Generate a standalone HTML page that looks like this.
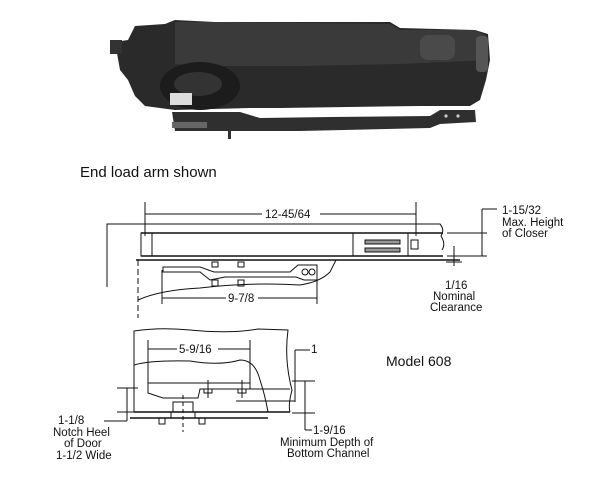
<!DOCTYPE html>
<html><head><meta charset="utf-8"><style>
html,body{margin:0;padding:0;background:#fff;width:600px;height:503px;overflow:hidden}
svg{display:block}
text{font-family:"Liberation Sans",Arial,sans-serif;fill:#111}
</style></head><body>
<svg width="600" height="503" viewBox="0 0 600 503" xmlns="http://www.w3.org/2000/svg">
<g>
<polygon points="128,40 135,26 165,24 175,20 215,22 390,22 400,28 475,30 488,34 490,60 486,80 480,100 470,106 420,106 280,108 250,108 175,110 145,106 135,96 128,80 120,70 115,42" fill="#2a2a2a"/>
<polygon points="175,22 215,22 390,24 400,30 475,30 486,36 488,60 400,64 300,66 200,66 175,64" fill="#3a3a3a"/>
<rect x="420" y="35" width="35" height="25" rx="8" fill="#4a4a4a"/>
<rect x="476" y="36" width="12" height="36" rx="4" fill="#555"/>
<ellipse cx="200" cy="86" rx="40" ry="24" fill="#1c1c1c"/>
<ellipse cx="198" cy="84" rx="24" ry="12" fill="#333"/>
<rect x="170" y="93" width="22" height="12" fill="#ddd"/>
<polygon points="172,112 240,112 260,118 330,117 430,116 440,110 475,110 476,122 440,124 430,128 300,131 175,131" fill="#2f2f2f"/>
<rect x="172" y="122" width="35" height="6" fill="#666"/>
<rect x="228" y="125" width="3" height="14" fill="#2f2f2f"/>
<circle cx="446" cy="116" r="1.6" fill="#ccc"/><circle cx="458" cy="116" r="1.6" fill="#ccc"/>
<rect x="110" y="40" width="12" height="14" fill="#333"/>
</g>
<text x="80" y="177" font-size="15">End load arm shown</text>

<g stroke="#111" fill="none" stroke-width="1">
<line x1="145" y1="202" x2="145" y2="236"/><line x1="416" y1="202" x2="416" y2="236"/>
<line x1="145" y1="214" x2="262" y2="214"/><line x1="320" y1="214" x2="416" y2="214"/>
<path d="M107,287 L107,224 L440,224 Q445,230 441,236 Q446,244 442,250"/>
<line x1="141" y1="233" x2="443" y2="233" stroke-width="1.5"/>
<line x1="141" y1="256" x2="443" y2="256" stroke-width="1.5"/>
<rect x="141" y="233" width="11" height="23"/>
<line x1="353" y1="233" x2="353" y2="256"/>
<rect x="365" y="240" width="35" height="4" fill="#999"/><rect x="365" y="248" width="35" height="4" fill="#999"/>
<line x1="408" y1="233" x2="408" y2="256"/><rect x="411" y="240" width="7" height="9"/>
<line x1="136" y1="260" x2="460" y2="260" stroke-width="1.5"/>
<line x1="138" y1="260" x2="138" y2="318" stroke-dasharray="6,3"/>
<path d="M163,267 L200,267 L214,272 L290,272 L298,265 L317,265 L317,280 L304,280 L296,277 L225,277 L210,280 L200,272 L163,272 Z"/>
<circle cx="305" cy="272" r="3"/><circle cx="312" cy="272" r="3"/>
<rect x="212" y="262" width="6" height="5"/><rect x="238" y="262" width="6" height="5"/>
<rect x="212" y="280" width="6" height="6"/><rect x="238" y="280" width="6" height="6"/>
<path d="M138,300 Q160,290 200,288 Q250,282 300,285 Q320,282 330,272 L336,260"/>
<line x1="162" y1="270" x2="162" y2="304"/><line x1="317" y1="280" x2="317" y2="304"/>
<line x1="162" y1="298" x2="226" y2="298"/><line x1="258" y1="298" x2="317" y2="298"/>
<line x1="447" y1="233" x2="487" y2="233"/><line x1="447" y1="256" x2="487" y2="256"/>
<line x1="482" y1="209" x2="482" y2="256"/><line x1="482" y1="209" x2="497" y2="209"/>
<line x1="454" y1="246" x2="454" y2="266"/><line x1="446" y1="262" x2="462" y2="262"/>
<path d="M134,412 L134,331 Q160,327 190,330 Q230,334 258,329 L288,330 Q284,360 292,390 Q288,405 290,412"/>
<path d="M134,365 Q150,360 190,361 Q220,366 240,360 Q255,360 260,380 Q265,395 268,412"/>
<line x1="134" y1="412" x2="290" y2="412" stroke-width="1.5"/>
<line x1="130" y1="418" x2="268" y2="418" stroke-width="1.5"/>
<path d="M148,383 L250,383 L250,389 L200,389 L198,398 L163,398 L148,393 Z"/>
<line x1="200" y1="389" x2="290" y2="389"/><line x1="236" y1="401" x2="295" y2="401"/>
<rect x="204" y="389" width="8" height="4"/><rect x="238" y="389" width="8" height="4"/>
<line x1="208" y1="380" x2="208" y2="398"/><line x1="242" y1="380" x2="242" y2="398"/>
<rect x="173" y="402" width="20" height="10"/><rect x="171" y="412" width="24" height="6"/>
<rect x="159" y="418" width="6" height="6"/><rect x="199" y="418" width="6" height="6"/>
<line x1="183" y1="395" x2="183" y2="432" stroke-dasharray="4,3"/>
<line x1="148" y1="340" x2="148" y2="383"/><line x1="250" y1="340" x2="250" y2="383"/>
<line x1="148" y1="349" x2="177" y2="349"/><line x1="218" y1="349" x2="250" y2="349"/>
<line x1="117" y1="388" x2="138" y2="388"/><line x1="117" y1="412" x2="138" y2="412"/>
<line x1="127" y1="388" x2="127" y2="421"/><line x1="127" y1="421" x2="104" y2="421"/>
<line x1="295" y1="350" x2="310" y2="350"/><line x1="295" y1="350" x2="295" y2="402"/>
<line x1="292" y1="381" x2="315" y2="381"/><line x1="292" y1="413" x2="315" y2="413"/>
<line x1="305" y1="381" x2="305" y2="430"/><line x1="305" y1="430" x2="312" y2="430"/>
</g>
<g font-size="11.5">
<text x="265" y="218">12-45/64</text>
<text x="228" y="302">9-7/8</text>
<text x="502" y="214">1-15/32</text>
<text x="502" y="226">Max. Height</text>
<text x="502" y="237">of Closer</text>
<text x="445" y="289">1/16</text>
<text x="433" y="300">Nominal</text>
<text x="430" y="311">Clearance</text>
<text x="179" y="353">5-9/16</text>
<text x="311" y="353">1</text>
<text x="313" y="434">1-9/16</text>
<text x="280" y="446">Minimum Depth of</text>
<text x="287" y="457">Bottom Channel</text>
<text x="58" y="424">1-1/8</text>
<text x="53" y="436">Notch Heel</text>
<text x="64" y="447">of Door</text>
<text x="56" y="459">1-1/2 Wide</text>
</g>
<text x="386" y="366" font-size="14">Model 608</text>
</svg>
</body></html>
